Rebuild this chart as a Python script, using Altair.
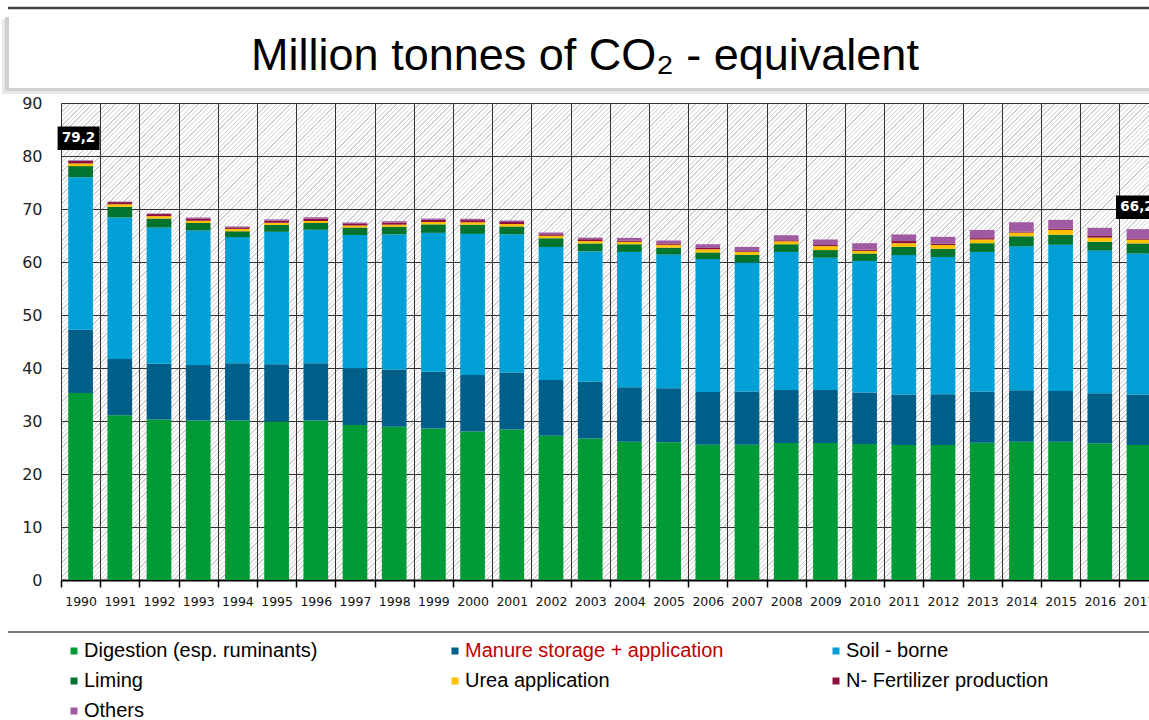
import altair as alt
import pandas as pd

years = list(range(1990, 2018))
series = ["Digestion (esp. ruminants)", "Manure storage + application", "Soil - borne",
          "Liming", "Urea application", "N- Fertilizer production", "Others"]
colors = ["#009a36", "#005f88", "#009fd6", "#00732f", "#ffc000", "#8c1040", "#a05aa2"]

digestion = [35.3, 31.1, 30.3, 30.1, 30.1, 29.9, 30.1, 29.25, 28.9, 28.6, 28.0, 28.4, 27.2, 26.7,
             26.1, 26.0, 25.5, 25.5, 25.85, 25.85, 25.65, 25.45, 25.45, 25.9, 26.1, 26.1, 25.8, 25.45]
manure = [11.9, 10.6, 10.5, 10.45, 10.8, 10.8, 10.8, 10.7, 10.8, 10.7, 10.7, 10.75, 10.55, 10.7,
          10.25, 10.2, 9.95, 10.05, 10.0, 10.0, 9.75, 9.55, 9.6, 9.65, 9.7, 9.55, 9.45, 9.55]
soil = [28.8, 26.7, 25.7, 25.4, 23.8, 25.0, 25.2, 25.15, 25.5, 26.2, 26.6, 26.1, 25.1, 24.6,
        25.55, 25.2, 25.1, 24.35, 26.05, 24.95, 24.8, 26.3, 25.9, 26.35, 27.15, 27.6, 26.9, 26.6]
liming = [2.1, 2.0, 1.7, 1.4, 1.1, 1.3, 1.25, 1.4, 1.45, 1.6, 1.75, 1.45, 1.65, 1.5,
          1.45, 1.3, 1.25, 1.45, 1.45, 1.45, 1.4, 1.55, 1.55, 1.65, 1.9, 1.9, 1.65, 1.9]
urea = [0.5, 0.5, 0.45, 0.45, 0.45, 0.4, 0.4, 0.38, 0.4, 0.45, 0.45, 0.45, 0.45, 0.45,
        0.45, 0.55, 0.6, 0.55, 0.55, 0.75, 0.5, 0.7, 0.7, 0.7, 0.7, 0.9, 0.8, 0.7]
nfert = [0.5, 0.4, 0.4, 0.4, 0.3, 0.4, 0.4, 0.31, 0.4, 0.4, 0.4, 0.4, 0.3, 0.35,
         0.25, 0.25, 0.25, 0.15, 0.2, 0.2, 0.25, 0.4, 0.25, 0.25, 0.2, 0.25, 0.3, 0.25]
others = [0.1, 0.1, 0.1, 0.2, 0.15, 0.25, 0.3, 0.25, 0.25, 0.25, 0.25, 0.3, 0.3, 0.3,
          0.5, 0.55, 0.7, 0.8, 0.95, 1.05, 1.2, 1.25, 1.3, 1.55, 1.75, 1.65, 1.55, 1.75]
values = [digestion, manure, soil, liming, urea, nfert, others]

label_years = [1990, 2017]
label_text = ["79,2", "66,2"]
y_ticks = [0, 10, 20, 30, 40, 50, 60, 70, 80, 90]
title_text = "Million tonnes of CO\u2082 - equivalent"

rows = []
for k, (name, vals) in enumerate(zip(series, values)):
    for yr, v in zip(years, vals):
        rows.append({"year": yr, "series": name, "k": k, "value": v})
df = pd.DataFrame(rows)
totals = [sum(vals[years.index(yr)] for vals in values) for yr in label_years]
lab = pd.DataFrame({"year": label_years, "total": totals, "text": label_text})
one = pd.DataFrame({"t": [title_text]})

W, H = 1088, 477
STEP = 39.2

# hatch pattern as a striped linear gradient for the plot background
r = H / W
p = (1 + r) / (1 + r * r)
N = round((W + H) / 4.6)
g = 0.28
stops = []
for k in range(N):
    a, b, c = k / N, (k + 1 - g) / N, (k + 1) / N
    stops += [(a, "#ffffff"), (b, "#ffffff"), (b, "#d2d2d2"), (c, "#d2d2d2")]
stop_str = ",".join("{offset:%.5f,color:'%s'}" % s for s in stops)
hatch = "{gradient:'linear',x1:0,y1:0,x2:%.5f,y2:%.5f,stops:[%s]}" % (p, p * r, stop_str)

xscale = alt.Scale(range=[0, STEP * len(years)], paddingInner=0, paddingOuter=0)
yscale = alt.Scale(domain=[0, 90], nice=False)

bars = alt.Chart(df).mark_bar(width=alt.RelativeBandSize(0.63)).encode(
    x=alt.X("year:O", scale=xscale, axis=alt.Axis(
        title=None, labelAngle=0, tickBand="extent", grid=True, gridColor="#333333",
        gridWidth=1, gridOpacity=1, labelFont="DejaVu Sans", labelFontSize=12.5,
        labelColor="#111111", labelPadding=8, tickSize=7, tickColor="#000000",
        tickWidth=1.5, domainColor="#000000", domainWidth=2)),
    y=alt.Y("value:Q", stack="zero", scale=yscale, axis=alt.Axis(
        title=None, values=y_ticks, grid=True, gridColor="#333333", gridWidth=1,
        gridOpacity=1, ticks=False, domain=True, domainColor="#333333", domainWidth=1,
        labelFont="DejaVu Sans", labelFontSize=16, labelColor="#222222", labelPadding=19)),
    color=alt.Color("series:N", scale=alt.Scale(domain=series, range=colors), sort=series,
                    legend=alt.Legend(
                        title=None, orient="none", legendX=3, legendY=538, columns=3,
                        direction="horizontal", gridAlign="all", columnPadding=102,
                        rowPadding=10, padding=0,
                        symbolType="square", symbolSize=49, symbolStrokeWidth=0,
                        symbolOpacity=1, labelFont="Liberation Sans",
                        labelFontSize=20, labelOffset=0, labelLimit=400,
                        labelColor=alt.ExprRef(
                            "datum.label == 'Manure storage + application' ? '#c00000' : '#000000'"))),
    order=alt.Order("k:Q", sort="ascending"),
)

boxes = alt.Chart(lab).mark_point(
    shape="M-1,-0.56H1V0.56H-1Z", filled=True, color="#000000", opacity=1, size=1764,
    yOffset=-22, xOffset=-2, strokeWidth=0).encode(
    x=alt.X("year:O", scale=xscale), y=alt.Y("total:Q", scale=yscale))
texts = alt.Chart(lab).mark_text(
    color="#ffffff", font="DejaVu Sans", fontWeight="bold", fontSize=13.5, yOffset=-22,
    xOffset=-2, align="center", baseline="middle").encode(
    x=alt.X("year:O", scale=xscale), y=alt.Y("total:Q", scale=yscale), text="text:N")

shadow2 = alt.Chart(one).mark_rect(color="#e9e9e9").encode(
    x=alt.value(-59), x2=alt.value(1100), y=alt.value(-84), y2=alt.value(-9))
shadow1 = alt.Chart(one).mark_rect(color="#d0d0d0").encode(
    x=alt.value(-56), x2=alt.value(1100), y=alt.value(-86), y2=alt.value(-12))
tbox = alt.Chart(one).mark_rect(color="#ffffff").encode(
    x=alt.value(-52), x2=alt.value(1100), y=alt.value(-88), y2=alt.value(-15))
top_line = alt.Chart(one).mark_rule(color="#444444", strokeWidth=2.5).encode(
    x=alt.value(-53), x2=alt.value(1100), y=alt.value(-95))
sep_line = alt.Chart(one).mark_rule(color="#777777", strokeWidth=2).encode(
    x=alt.value(-53), x2=alt.value(1100), y=alt.value(529))
title = alt.Chart(one).mark_text(
    font="Liberation Sans", fontSize=45, align="center", baseline="alphabetic",
    color="#000000").encode(x=alt.value(524), y=alt.value(-33), text="t:N")

chart = alt.layer(shadow2, shadow1, tbox, top_line, title, sep_line, bars, boxes, texts).properties(
    width=W, height=H,
    autosize=alt.AutoSizeParams(type="none"),
    padding={"left": 61, "top": 103, "right": 0, "bottom": 140},
    background="#ffffff",
    view=alt.ViewBackground(fill=alt.ExprRef(hatch), stroke="transparent"),
)

chart.save("out.html", embed_options={"renderer": "svg", "actions": False})
